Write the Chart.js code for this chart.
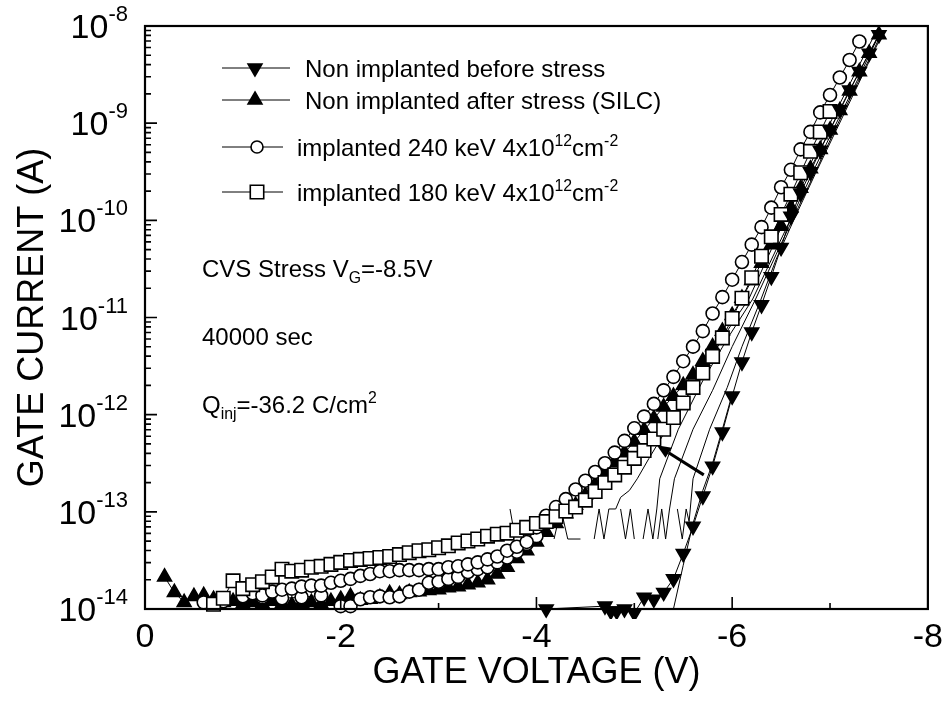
<!DOCTYPE html>
<html>
<head>
<meta charset="utf-8">
<title>Gate current vs gate voltage</title>
<script src="https://cdn.jsdelivr.net/npm/chart.js@4.4.1/dist/chart.umd.min.js"></script>
<style>
  html, body { margin: 0; padding: 0; background: #fff; }
  #wrap { width: 951px; height: 715px; }
</style>
</head>
<body>
<div id="wrap"><canvas id="grafico" width="951" height="715"></canvas></div>
<script>
// gate voltage (V) and gate current (A)

// non implanted, before stress (filled down triangles)
const vBefore = [-4.1, -4.7, -4.76, -4.82, -4.9, -5.0, -5.1, -5.2, -5.3, -5.4, -5.5, -5.6, -5.7, -5.8, -5.9, -6.0,
  -6.1, -6.2, -6.3, -6.4, -6.5, -6.6, -6.7, -6.8, -6.9, -7.0, -7.1, -7.2, -7.3, -7.4, -7.5];
const iBefore = [1.0e-14, 1.07e-14, 9.5e-15, 9.5e-15, 1.0e-14, 9.1e-15, 1.32e-14, 1.26e-14, 1.48e-14, 2.04e-14, 3.72e-14,
  7.08e-14, 1.45e-13, 2.95e-13, 6.61e-13, 1.55e-12, 3.47e-12, 7.08e-12, 1.35e-11, 2.63e-11, 5.25e-11, 1.10e-10,
  1.91e-10, 3.16e-10, 5.25e-10, 8.51e-10, 1.38e-9, 2.19e-9, 3.39e-9, 5.25e-9, 8.13e-9];

// non implanted, after stress - SILC (filled up triangles)
const vAfter = [-0.2, -0.3, -0.4, -0.5, -0.6, -0.7, -0.8, -0.9, -1.0, -1.1, -1.2, -1.3, -1.4, -1.5, -1.6, -1.7, -1.8,
  -1.9, -2.0, -2.1, -2.2, -2.3, -2.4, -2.5, -2.6, -2.7, -2.8, -2.9, -3.0, -3.1, -3.2, -3.3, -3.4, -3.5, -3.6, -3.7,
  -3.8, -3.9, -4.0, -4.1, -4.2, -4.3, -4.4, -4.5, -4.6, -4.7, -4.8, -4.9, -5.0, -5.1, -5.2, -5.3, -5.4, -5.5, -5.6,
  -5.7, -5.8, -5.9, -6.0, -6.1, -6.2, -6.3, -6.4, -6.5, -6.6, -6.7, -6.8, -6.9, -7.0, -7.1, -7.2, -7.3, -7.4, -7.5];
const iAfter = [2.14e-14, 1.48e-14, 1.17e-14, 1.35e-14, 1.38e-14, 1.26e-14, 1.17e-14, 1.20e-14, 1.12e-14, 1.17e-14,
  1.12e-14, 1.20e-14, 1.12e-14, 1.10e-14, 1.15e-14, 1.17e-14, 1.12e-14, 1.20e-14, 1.26e-14, 1.35e-14, 1.23e-14,
  1.26e-14, 1.32e-14, 1.45e-14, 1.41e-14, 1.48e-14, 1.51e-14, 1.55e-14, 1.58e-14, 1.66e-14, 1.70e-14, 1.78e-14,
  1.86e-14, 2.00e-14, 2.29e-14, 2.69e-14, 3.31e-14, 3.98e-14, 4.90e-14, 6.17e-14, 7.59e-14, 9.55e-14, 1.17e-13,
  1.48e-13, 1.91e-13, 2.51e-13, 3.24e-13, 4.07e-13, 5.25e-13, 6.92e-13, 9.12e-13, 1.20e-12, 1.55e-12, 2.00e-12,
  2.57e-12, 3.55e-12, 5.01e-12, 7.24e-12, 1.05e-11, 1.58e-11, 2.40e-11, 3.63e-11, 5.62e-11, 8.71e-11, 1.35e-10,
  2.14e-10, 3.39e-10, 5.37e-10, 8.51e-10, 1.35e-9, 2.14e-9, 3.39e-9, 5.25e-9, 8.13e-9];

// implanted 240 keV (open circles), upper sweep
const v240 = [-1.0, -1.1, -1.2, -1.3, -1.4, -1.5, -1.6, -1.7, -1.8, -1.9, -2.0, -2.1, -2.2, -2.3, -2.4, -2.5, -2.6,
  -2.7, -2.8, -2.9, -3.0, -3.1, -3.2, -3.3, -3.4, -3.5, -3.6, -3.7, -3.8, -3.9, -4.0, -4.1, -4.2, -4.3, -4.4, -4.5,
  -4.6, -4.7, -4.8, -4.9, -5.0, -5.1, -5.2, -5.3, -5.4, -5.5, -5.6, -5.7, -5.8, -5.9, -6.0, -6.1, -6.2, -6.3, -6.4,
  -6.5, -6.6, -6.7, -6.8, -6.9, -7.0, -7.1, -7.2, -7.3];
const i240 = [1.35e-14, 1.45e-14, 1.38e-14, 1.51e-14, 1.58e-14, 1.62e-14, 1.70e-14, 1.74e-14, 1.74e-14, 1.86e-14,
  1.95e-14, 2.04e-14, 2.19e-14, 2.29e-14, 2.45e-14, 2.45e-14, 2.51e-14, 2.51e-14, 2.51e-14, 2.57e-14, 2.57e-14,
  2.69e-14, 2.75e-14, 2.88e-14, 3.02e-14, 3.24e-14, 3.47e-14, 3.98e-14, 4.37e-14, 4.90e-14, 6.92e-14, 9.12e-14,
  1.12e-13, 1.35e-13, 1.70e-13, 2.09e-13, 2.57e-13, 3.16e-13, 4.07e-13, 5.37e-13, 7.24e-13, 9.55e-13, 1.29e-12,
  1.78e-12, 2.45e-12, 3.55e-12, 5.01e-12, 7.24e-12, 1.10e-11, 1.62e-11, 2.45e-11, 3.72e-11, 5.62e-11, 8.51e-11,
  1.35e-10, 2.19e-10, 3.31e-10, 5.37e-10, 8.13e-10, 1.29e-9, 1.95e-9, 2.95e-9, 4.47e-9, 6.92e-9];

// implanted 240 keV, lower sweep
const v240low = [-0.6, -0.8, -1.0, -1.2, -1.4, -1.6, -1.8, -2.0, -2.1, -2.2, -2.3, -2.4, -2.5, -2.6, -2.7, -2.8, -2.9,
  -3.0, -3.1, -3.2, -3.3, -3.4, -3.5, -3.6, -3.7, -3.8, -3.9, -4.0];
const i240low = [1.17e-14, 1.20e-14, 1.32e-14, 1.32e-14, 1.29e-14, 1.32e-14, 1.38e-14, 1.07e-14, 1.07e-14, 1.26e-14,
  1.32e-14, 1.35e-14, 1.32e-14, 1.35e-14, 1.51e-14, 1.58e-14, 1.86e-14, 1.91e-14, 2.04e-14, 2.14e-14, 2.40e-14,
  2.57e-14, 2.69e-14, 3.02e-14, 3.39e-14, 3.89e-14, 4.68e-14, 5.62e-14];

// implanted 180 keV (open squares)
const v180 = [-0.7, -0.8, -0.9, -1.0, -1.1, -1.2, -1.3, -1.4, -1.5, -1.6, -1.7, -1.8, -1.9, -2.0, -2.1, -2.2, -2.3,
  -2.4, -2.5, -2.6, -2.7, -2.8, -2.9, -3.0, -3.1, -3.2, -3.3, -3.4, -3.5, -3.6, -3.7, -3.8, -3.9, -4.0, -4.1, -4.2,
  -4.3, -4.4, -4.5, -4.6, -4.7, -4.8, -4.9, -5.0, -5.1, -5.2, -5.3, -5.4, -5.5, -5.6, -5.7, -5.8, -5.9, -6.0, -6.1,
  -6.2, -6.3, -6.4, -6.5, -6.6, -6.7, -6.8, -6.9, -7.0];
const i180 = [1.12e-14, 1.29e-14, 1.95e-14, 1.62e-14, 1.78e-14, 1.91e-14, 2.14e-14, 2.57e-14, 2.45e-14, 2.51e-14,
  2.69e-14, 2.75e-14, 2.88e-14, 3.02e-14, 3.16e-14, 3.24e-14, 3.31e-14, 3.39e-14, 3.47e-14, 3.63e-14, 3.80e-14,
  3.98e-14, 4.07e-14, 4.27e-14, 4.47e-14, 4.79e-14, 5.01e-14, 5.25e-14, 5.62e-14, 5.89e-14, 6.03e-14, 6.46e-14,
  6.92e-14, 7.59e-14, 7.94e-14, 8.91e-14, 1.02e-13, 1.12e-13, 1.32e-13, 1.62e-13, 2.00e-13, 2.40e-13, 2.88e-13,
  3.55e-13, 4.27e-13, 5.62e-13, 7.08e-13, 9.33e-13, 1.32e-12, 1.91e-12, 2.69e-12, 3.98e-12, 6.17e-12, 9.77e-12,
  1.58e-11, 2.57e-11, 4.27e-11, 6.76e-11, 1.15e-10, 1.86e-10, 3.09e-10, 5.13e-10, 8.13e-10, 1.32e-9];

// intermediate stress curves, thin lines without symbols (null = gap)
const vStress1 = [-3.73, -3.77, -3.8, -4.18, -4.25, -4.32, -4.45, -4.5, -4.59, -4.64, -4.69, -4.74, -4.81, -4.86, -4.95,
  -5.03, -5.15, -5.33, -5.6, -5.85, -6.0, -6.17, -6.4, -6.6, -6.8, -7.0, -7.2, -7.4, -7.5];
const iStress1 = [1.07e-13, 6.31e-14, null, 5.25e-14, 1.07e-13, 5.25e-14, 5.25e-14, null, 5.25e-14, 1.07e-13, 5.25e-14,
  1.07e-13, 1.07e-13, 1.41e-13, 1.66e-13, 2.19e-13, 3.55e-13, 7.08e-13, 1.91e-12, 5.01e-12, 8.71e-12, 1.55e-11,
  5.01e-11, 1.41e-10, 3.80e-10, 1.0e-9, 2.51e-9, 6.31e-9, 1.0e-8];
const vStress2 = [-4.86, -4.91, -4.96, -5.0, -5.05, -5.09, -5.14, -5.19, -5.23, -5.26, -5.45, -5.7, -5.95, -6.21, -6.45,
  -6.65, -6.85, -7.05, -7.25, -7.45, -7.52];
const iStress2 = [1.07e-13, 5.25e-14, 1.07e-13, 5.25e-14, null, 5.25e-14, 1.07e-13, 5.25e-14, 1.07e-13, 2.19e-13,
  7.08e-13, 2.24e-12, 6.03e-12, 1.55e-11, 5.01e-11, 1.32e-10, 3.55e-10, 9.33e-10, 2.40e-9, 6.31e-9, 8.91e-9];
const vStress3 = [-5.24, -5.28, -5.32, -5.36, -5.41, -5.6, -5.8, -6.0, -6.24, -6.45, -6.65, -6.85, -7.05, -7.25, -7.45, -7.53];
const iStress3 = [5.25e-14, 1.07e-13, 5.25e-14, 1.07e-13, 2.19e-13, 7.08e-13, 1.78e-12, 5.01e-12, 1.55e-11, 4.47e-11,
  1.20e-10, 3.16e-10, 8.51e-10, 2.24e-9, 5.75e-9, 8.71e-9];
const vStress4 = [-5.44, -5.49, -5.53, -5.56, -5.6, -5.77, -5.95, -6.1, -6.28, -6.45, -6.65, -6.85, -7.05, -7.25, -7.45, -7.55];
const iStress4 = [1.07e-13, 5.25e-14, 1.07e-13, 7.94e-14, 2.19e-13, 7.08e-13, 1.91e-12, 5.01e-12, 1.41e-11, 3.98e-11,
  1.12e-10, 3.02e-10, 7.94e-10, 2.09e-9, 5.50e-9, 8.91e-9];
const vStress5 = [-5.4, -5.5, -5.6, -5.7, -5.8, -5.9, -6.0];
const iStress5 = [1.0e-14, 2.82e-14, 7.59e-14, 1.66e-13, 3.16e-13, 7.08e-13, 1.62e-12];

// axes
const xMajorTicks = [-2, -4, -6];
const xMinorTicks = [-1, -3, -5, -7];
const yDecades = [1e-14, 1e-13, 1e-12, 1e-11, 1e-10, 1e-9, 1e-8];
const yDecadeLabels = ['-14', '-13', '-12', '-11', '-10', '-9', '-8'];

// annotations
const noteLines = ['CVS Stress V_{G}=-8.5V', '40000 sec', 'Q_{inj}=-36.2 C/cm^{2}'];
const arrowFrom = [-5.71, 2.4e-13];
const arrowTo = [-5.23, 4.84e-13];

const FONT = "'Liberation Sans', Arial, Helvetica, sans-serif";

function toPoints(v, i) {
  return v.map((x, k) => ({ x: x, y: i[k] }));
}

// text with ^{sup} and _{sub} pieces
function richText(ctx, text, x, y, size) {
  const parts = text.split(/(\^\{[^}]*\}|_\{[^}]*\})/).filter(p => p.length);
  let cx = x;
  parts.forEach(p => {
    let s = size, dy = 0, t = p;
    if (p[0] === '^') { t = p.slice(2, -1); s = size * 0.66; dy = -size * 0.42; }
    else if (p[0] === '_') { t = p.slice(2, -1); s = size * 0.66; dy = size * 0.26; }
    ctx.font = s + 'px ' + FONT;
    ctx.fillText(t, cx, y + dy);
    cx += ctx.measureText(t).width;
  });
}

function marker(ctx, style, x, y, r, fill, rot) {
  ctx.beginPath();
  if (style === 'circle') {
    ctx.arc(x, y, r, 0, Math.PI * 2);
  } else if (style === 'rect') {
    const h = r * Math.SQRT1_2;
    ctx.rect(x - h, y - h, 2 * h, 2 * h);
  } else {
    const a = (rot || 0) * Math.PI / 180;
    for (let k = 0; k < 3; k++) {
      const b = a + k * 2 * Math.PI / 3;
      const px = x + Math.sin(b) * r, py = y - Math.cos(b) * r;
      if (k === 0) ctx.moveTo(px, py); else ctx.lineTo(px, py);
    }
    ctx.closePath();
  }
  ctx.fillStyle = fill;
  ctx.fill();
  ctx.stroke();
}

const common = {
  showLine: true,
  borderColor: '#000',
  borderWidth: 1,
  pointBorderColor: '#000',
  pointBorderWidth: 1.6,
  pointHoverRadius: 0,
  clip: 10
};

function thin(v, i) {
  return Object.assign({}, common, { data: toPoints(v, i), pointRadius: 0, order: 6, spanGaps: false });
}

const datasets = [
  Object.assign({}, common, { label: 'Non implanted before stress', data: toPoints(vBefore, iBefore),
    pointStyle: 'triangle', pointRotation: 180, pointRadius: 8, pointBackgroundColor: '#000', order: 0 }),
  Object.assign({}, common, { label: 'Non implanted after stress (SILC)', data: toPoints(vAfter, iAfter),
    pointStyle: 'triangle', pointRadius: 8, pointBackgroundColor: '#000', order: 3 }),
  Object.assign({}, common, { label: 'implanted 240 keV 4x10^{12}cm^{-2}', data: toPoints(v240, i240),
    pointStyle: 'circle', pointRadius: 6.5, pointBackgroundColor: '#fff', order: 2 }),
  Object.assign({}, common, { label: 'implanted 180 keV 4x10^{12}cm^{-2}', data: toPoints(v180, i180),
    pointStyle: 'rect', pointRadius: 9.5, pointBackgroundColor: '#fff', order: 1 }),
  Object.assign({}, common, { data: toPoints(v240low, i240low),
    pointStyle: 'circle', pointRadius: 6.5, pointBackgroundColor: '#fff', order: 2 }),
  thin(vStress1, iStress1),
  thin(vStress2, iStress2),
  thin(vStress3, iStress3),
  thin(vStress4, iStress4),
  thin(vStress5, iStress5)
];

// frame and inward tick marks
const framePlugin = {
  id: 'frame',
  afterDatasetsDraw(chart) {
    const { ctx, chartArea: a, scales: { x, y } } = chart;
    ctx.save();
    ctx.strokeStyle = '#000';
    ctx.lineWidth = 2.2;
    ctx.strokeRect(a.left, a.top, a.right - a.left, a.bottom - a.top);
    ctx.lineWidth = 1.6;
    ctx.beginPath();
    xMajorTicks.forEach(v => {
      const p = x.getPixelForValue(v);
      ctx.moveTo(p, a.bottom); ctx.lineTo(p, a.bottom - 12);
    });
    xMinorTicks.forEach(v => {
      const p = x.getPixelForValue(v);
      ctx.moveTo(p, a.bottom); ctx.lineTo(p, a.bottom - 6);
    });
    yDecades.forEach((d, k) => {
      const p = y.getPixelForValue(d);
      ctx.moveTo(a.left, p); ctx.lineTo(a.left + 12, p);
      if (k < yDecades.length - 1) {
        for (let m = 2; m < 10; m++) {
          const q = y.getPixelForValue(d * m);
          ctx.moveTo(a.left, q); ctx.lineTo(a.left + 6, q);
        }
      }
    });
    ctx.stroke();
    ctx.restore();
  }
};

// 10^n labels, legend, notes and arrow
const textPlugin = {
  id: 'texts',
  afterDraw(chart) {
    const { ctx, chartArea: a, scales: { x, y } } = chart;
    ctx.save();
    ctx.fillStyle = '#000';
    ctx.strokeStyle = '#000';
    ctx.textBaseline = 'alphabetic';
    ctx.textAlign = 'left';

    const right = a.left - 17;
    yDecades.forEach((d, k) => {
      const p = y.getPixelForValue(d);
      ctx.font = '22px ' + FONT;
      const ws = ctx.measureText(yDecadeLabels[k]).width;
      ctx.fillText(yDecadeLabels[k], right - ws, p - 5);
      ctx.font = '34px ' + FONT;
      const wb = ctx.measureText('10').width;
      ctx.fillText('10', right - ws - wb, p + 12);
    });

    // legend
    const rows = [
      { y: 68, x0: 222, x1: 290, mx: 255, tx: 305 },
      { y: 100, x0: 222, x1: 290, mx: 255, tx: 305 },
      { y: 147, x0: 222, x1: 283, mx: 257, tx: 297 },
      { y: 192, x0: 222, x1: 283, mx: 257, tx: 297 }
    ];
    rows.forEach((r, k) => {
      const ds = chart.data.datasets[k];
      ctx.lineWidth = 1;
      ctx.beginPath();
      ctx.moveTo(r.x0, r.y); ctx.lineTo(r.x1, r.y);
      ctx.stroke();
      ctx.lineWidth = 1.6;
      const rad = ds.pointStyle === 'rect' ? 9.5 : (ds.pointStyle === 'circle' ? 6 : 8);
      marker(ctx, ds.pointStyle, r.mx, r.y, rad, ds.pointBackgroundColor, ds.pointRotation);
      ctx.fillStyle = '#000';
      richText(ctx, ds.label, r.tx, r.y + 8.6, 24);
    });

    // stress conditions
    const noteY = [277, 345, 413];
    noteLines.forEach((t, k) => richText(ctx, t, 202, noteY[k], 24));

    // arrow
    const x0 = x.getPixelForValue(arrowFrom[0]), y0 = y.getPixelForValue(arrowFrom[1]);
    const x1 = x.getPixelForValue(arrowTo[0]), y1 = y.getPixelForValue(arrowTo[1]);
    const ang = Math.atan2(y1 - y0, x1 - x0);
    const hl = 14, hw = 6;
    const bx = x1 - Math.cos(ang) * hl, by = y1 - Math.sin(ang) * hl;
    ctx.lineWidth = 3;
    ctx.beginPath();
    ctx.moveTo(x0, y0); ctx.lineTo(bx, by);
    ctx.stroke();
    ctx.beginPath();
    ctx.moveTo(x1, y1);
    ctx.lineTo(bx + Math.sin(ang) * hw, by - Math.cos(ang) * hw);
    ctx.lineTo(bx - Math.sin(ang) * hw, by + Math.cos(ang) * hw);
    ctx.closePath();
    ctx.fill();
    ctx.restore();
  }
};

new Chart(document.getElementById('grafico'), {
  type: 'scatter',
  data: { datasets: datasets },
  options: {
    responsive: false,
    animation: false,
    devicePixelRatio: 1,
    layout: { padding: { top: 26, right: 18, left: 0, bottom: 0 } },
    plugins: { legend: { display: false }, tooltip: { enabled: false } },
    scales: {
      x: {
        type: 'linear',
        min: -8,
        max: 0,
        reverse: true,
        grid: { display: false, drawTicks: false },
        border: { display: false },
        ticks: { stepSize: 2, color: '#000', padding: 8, maxRotation: 0, autoSkip: false,
          font: { family: FONT, size: 34 } },
        title: { display: true, text: 'GATE VOLTAGE (V)', color: '#000',
          font: { family: FONT, size: 36 }, padding: { top: 0, bottom: 20 } },
        afterFit(scale) { scale.height = 106; }
      },
      y: {
        type: 'logarithmic',
        min: 1e-14,
        max: 1e-8,
        grid: { display: false, drawTicks: false },
        border: { display: false },
        ticks: { display: false },
        title: { display: true, text: 'GATE CURRENT (A)', color: '#000',
          font: { family: FONT, size: 36 }, padding: { top: 11, bottom: 0 } },
        afterFit(scale) { scale.width = 145; }
      }
    }
  },
  plugins: [framePlugin, textPlugin]
});
</script>
</body>
</html>
